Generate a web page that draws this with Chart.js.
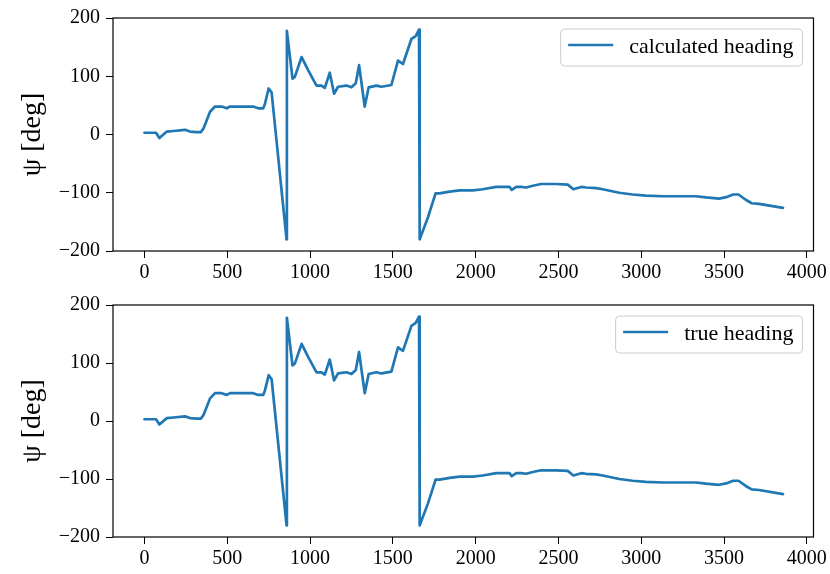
<!DOCTYPE html>
<html lang="en">
<head>
<meta charset="UTF-8">
<title>heading</title>
<style>
  body { margin: 0; background: #fff; }
  .box { position: absolute; left: 0; width: 830px; height: 287px; }
</style>
</head>
<body>
<div class="box" style="top:0"><canvas id="topChart"></canvas></div>
<div class="box" style="top:287px"><canvas id="bottomChart"></canvas></div>

<script src="https://cdn.jsdelivr.net/npm/chart.js"></script>
<script>
// sample index along the run
const samples = [0, 70, 90, 135, 175, 245, 275, 316, 340, 356,
  396, 426, 466, 497, 517, 657, 687, 717, 727, 750,
  768, 858, 860, 894, 908, 949, 989, 1039, 1069, 1089,
  1119, 1145, 1169, 1220, 1250, 1276, 1296, 1330, 1354, 1401,
  1431, 1491, 1531, 1561, 1612, 1638, 1658, 1662, 1712, 1758,
  1782, 1843, 1903, 1983, 2043, 2124, 2204, 2218, 2245, 2275,
  2305, 2345, 2395, 2486, 2556, 2590, 2637, 2667, 2727, 2767,
  2817, 2867, 2948, 3028, 3129, 3229, 3330, 3390, 3470, 3520,
  3555, 3587, 3631, 3667, 3711, 3856];

// heading in degrees, wrapped to [-180, 180]
const calcHeading = [3, 3, -6, 5, 6, 8, 5, 4, 4, 10,
  39, 48, 48, 45, 48, 48, 45, 45, 52, 79,
  72, -180, 178, 96, 99, 133, 110, 84, 84, 80,
  106, 70, 82, 84, 81, 88, 119, 48, 81, 84,
  82, 85, 127, 121, 164, 169, 180, -180, -142, -101,
  -101, -98, -96, -96, -94, -90, -90, -95, -90, -90,
  -91, -88, -85, -85, -86, -94, -90, -91, -92, -94,
  -97, -100, -103, -105, -106, -106, -106, -108, -110, -107,
  -103, -103, -112, -118, -119, -126];

const trueHeading = [3, 3, -6, 5, 6, 8, 5, 4, 4, 10,
  39, 48, 48, 45, 48, 48, 45, 45, 52, 79,
  72, -180, 178, 96, 99, 133, 110, 84, 84, 80,
  106, 70, 82, 84, 81, 88, 119, 48, 81, 84,
  82, 85, 127, 121, 164, 169, 180, -180, -142, -101,
  -101, -98, -96, -96, -94, -90, -90, -95, -90, -90,
  -91, -88, -85, -85, -86, -94, -90, -91, -92, -94,
  -97, -100, -103, -105, -106, -106, -106, -108, -110, -107,
  -103, -103, -112, -118, -119, -126];

const xTicks = [0, 500, 1000, 1500, 2000, 2500, 3000, 3500, 4000];
const yTicks = [-200, -100, 0, 100, 200];

const fontFam = "'Liberation Serif', 'DejaVu Serif', serif";
const blue = '#1f77b4';

function f_minus(v) {
    return String(v).replace('-', '\u2212');
}

// box round the plot area and a framed legend in the top right corner
const framePlugin = {
    id: 'frame',
    afterDraw(chart) {
        const ctx = chart.ctx;
        const a = chart.chartArea;
        const ds = chart.data.datasets[0];
        ctx.save();
        ctx.strokeStyle = '#000';
        ctx.lineWidth = 1.2;
        ctx.strokeRect(a.left, a.top, a.right - a.left, a.bottom - a.top);

        ctx.font = '22px ' + fontFam;
        const tw = ctx.measureText(ds.label).width;
        const w = 7.5 + 45 + 16 + tw + 9;
        const h = 37;
        const x = a.right - 11 - w;
        const y = a.top + 11;
        ctx.beginPath();
        ctx.roundRect(x, y, w, h, 4);
        ctx.fillStyle = 'rgba(255,255,255,0.8)';
        ctx.fill();
        ctx.strokeStyle = '#cccccc';
        ctx.lineWidth = 1;
        ctx.stroke();

        ctx.beginPath();
        ctx.moveTo(x + 7.5, y + 16);
        ctx.lineTo(x + 52.5, y + 16);
        ctx.strokeStyle = ds.borderColor;
        ctx.lineWidth = ds.borderWidth;
        ctx.stroke();

        ctx.fillStyle = '#000';
        ctx.textBaseline = 'alphabetic';
        ctx.fillText(ds.label, x + 68.5, y + 24);
        ctx.restore();
    }
};

function f_draw(p_id, p_label, p_values, p_padTop, p_axisH) {
    const points = samples.map((s, i) => ({ x: s, y: p_values[i] }));
    return new Chart(document.getElementById(p_id), {
        type: 'line',
        data: {
            datasets: [{
                label: p_label,
                data: points,
                borderColor: blue,
                borderWidth: 2.7,
                borderJoinStyle: 'round',
                borderCapStyle: 'round',
                pointRadius: 0,
                tension: 0,
                fill: false
            }]
        },
        options: {
            responsive: true,
            maintainAspectRatio: false,
            animation: false,
            devicePixelRatio: 1,
            layout: { padding: { top: p_padTop, right: 15, left: 0, bottom: 0 } },
            plugins: {
                legend: { display: false },
                tooltip: { enabled: false }
            },
            scales: {
                x: {
                    type: 'linear',
                    min: -190,
                    max: 4040,
                    afterBuildTicks: s => { s.ticks = xTicks.map(v => ({ value: v })); },
                    afterFit: s => { s.height = p_axisH; },
                    border: { display: false },
                    grid: { drawOnChartArea: false, tickLength: 7, tickColor: '#000', tickWidth: 1 },
                    ticks: {
                        color: '#000',
                        font: { family: fontFam, size: 20 },
                        padding: 3,
                        maxRotation: 0,
                        autoSkip: false,
                        callback: v => f_minus(v)
                    }
                },
                y: {
                    min: -200,
                    max: 200,
                    afterBuildTicks: s => { s.ticks = yTicks.map(v => ({ value: v })); },
                    afterFit: s => { s.width = 113; },
                    border: { display: false },
                    grid: { drawOnChartArea: false, tickLength: 7, tickColor: '#000', tickWidth: 1 },
                    ticks: {
                        color: '#000',
                        font: { family: fontFam, size: 20 },
                        padding: 6,
                        autoSkip: false,
                        callback: v => f_minus(v)
                    },
                    title: {
                        display: true,
                        text: '\u03c8 [deg]',
                        color: '#000',
                        font: { family: fontFam, size: 28 },
                        padding: { top: 16, bottom: 0 }
                    }
                }
            }
        },
        plugins: [framePlugin]
    });
}

f_draw('topChart', 'calculated heading', calcHeading, 14, 36);
f_draw('bottomChart', 'true heading', trueHeading, 12.5, 37);
</script>
</body>
</html>
